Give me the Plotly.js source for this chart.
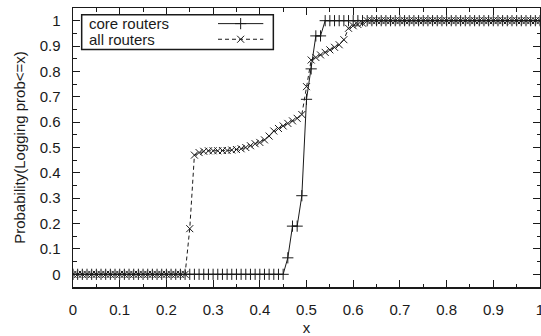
<!DOCTYPE html>
<html>
<head>
<meta charset="utf-8">
<script src="https://cdn.plot.ly/plotly-3.0.1.min.js"></script>
<style>html,body{margin:0;padding:0;background:#fff;}#chart{width:541px;height:336px;}</style>
</head>
<body>
<div id="chart"></div>
<script>
const xValues = [
  0.00,0.01,0.02,0.03,0.04,0.05,0.06,0.07,0.08,0.09,
  0.10,0.11,0.12,0.13,0.14,0.15,0.16,0.17,0.18,0.19,
  0.20,0.21,0.22,0.23,0.24,0.25,0.26,0.27,0.28,0.29,
  0.30,0.31,0.32,0.33,0.34,0.35,0.36,0.37,0.38,0.39,
  0.40,0.41,0.42,0.43,0.44,0.45,0.46,0.47,0.48,0.49,
  0.50,0.51,0.52,0.53,0.54,0.55,0.56,0.57,0.58,0.59,
  0.60,0.61,0.62,0.63,0.64,0.65,0.66,0.67,0.68,0.69,
  0.70,0.71,0.72,0.73,0.74,0.75,0.76,0.77,0.78,0.79,
  0.80,0.81,0.82,0.83,0.84,0.85,0.86,0.87,0.88,0.89,
  0.90,0.91,0.92,0.93,0.94,0.95,0.96,0.97,0.98,0.99,
  1.00
];
const coreRouters = [
  0,0,0,0,0,0,0,0,0,0,
  0,0,0,0,0,0,0,0,0,0,
  0,0,0,0,0,0,0,0,0,0,
  0,0,0,0,0,0,0,0,0,0,
  0,0,0,0,0,0,0.065,0.19,0.19,0.31,
  0.69,0.81,0.94,0.94,1,1,1,1,1,1,
  1,1,1,1,1,1,1,1,1,1,
  1,1,1,1,1,1,1,1,1,1,
  1,1,1,1,1,1,1,1,1,1,
  1,1,1,1,1,1,1,1,1,1,
  1
];
const allRouters = [
  0,0,0,0,0,0,0,0,0,0,
  0,0,0,0,0,0,0,0,0,0,
  0,0,0,0,0,0.18,0.47,0.48,0.485,0.487,
  0.487,0.487,0.488,0.488,0.49,0.492,0.495,0.50,0.507,0.515,
  0.52,0.53,0.545,0.565,0.575,0.585,0.595,0.605,0.615,0.63,
  0.74,0.845,0.855,0.865,0.875,0.885,0.895,0.905,0.925,0.97,
  0.98,0.985,0.99,1,1,1,1,1,1,1,
  1,1,1,1,1,1,1,1,1,1,
  1,1,1,1,1,1,1,1,1,1,
  1,1,1,1,1,1,1,1,1,1,
  1
];
const seriesNames = ["core routers", "all routers"];
const xTickVals = [0,0.1,0.2,0.3,0.4,0.5,0.6,0.7,0.8,0.9,1];
const xTickText = ["0","0.1","0.2","0.3","0.4","0.5","0.6","0.7","0.8","0.9","1"];
const yTickVals = [0,0.1,0.2,0.3,0.4,0.5,0.6,0.7,0.8,0.9,1];
const yTickText = ["0","0.1","0.2","0.3","0.4","0.5","0.6","0.7","0.8","0.9","1"];

const ink = "#1a1a1a";
const font = {family: "Liberation Sans, Arial, sans-serif", size: 15, color: ink};

const traces = [
  {x: xValues, y: coreRouters, name: seriesNames[0], mode: "lines+markers", type: "scatter",
   line: {color: ink, width: 1},
   marker: {symbol: "cross-thin", size: 8, color: ink, line: {color: ink, width: 1}}},
  {x: xValues, y: allRouters, name: seriesNames[1], mode: "lines+markers", type: "scatter",
   line: {color: ink, width: 1, dash: "4px,3px"},
   marker: {symbol: "x-thin", size: 7, color: ink, line: {color: ink, width: 1}}},
  // legend samples on a hidden overlay axis (0..1 = plot area)
  {x: [0.3105, 0.359, 0.4075], y: [0.944, 0.944, 0.944], xaxis: "x2", yaxis: "y2",
   mode: "lines", line: {color: ink, width: 1}, hoverinfo: "skip", showlegend: false},
  {x: [0.359], y: [0.944], xaxis: "x2", yaxis: "y2", mode: "markers",
   marker: {symbol: "cross-thin", size: 8, color: ink, line: {color: ink, width: 1}}, showlegend: false},
  {x: [0.3105, 0.4075], y: [0.888, 0.888], xaxis: "x2", yaxis: "y2",
   mode: "lines", line: {color: ink, width: 1, dash: "4px,3px"}, hoverinfo: "skip", showlegend: false},
  {x: [0.359], y: [0.888], xaxis: "x2", yaxis: "y2", mode: "markers",
   marker: {symbol: "x-thin", size: 7, color: ink, line: {color: ink, width: 1}}, showlegend: false}
];

const axisCommon = {
  showgrid: false, zeroline: false, showline: true, linecolor: ink, linewidth: 1.5,
  mirror: "allticks", ticks: "inside", ticklen: 7, tickwidth: 1, tickcolor: ink,
  tickfont: font, tickmode: "array", ticklabeloverflow: "allow"
};

const layout = {
  width: 541, height: 336,
  margin: {l: 73, r: 1, t: 8, b: 49, pad: 0},
  paper_bgcolor: "#fff", plot_bgcolor: "#fff",
  showlegend: false,
  font: font,
  xaxis: Object.assign({}, axisCommon, {
    range: [0, 1], tickvals: xTickVals, ticktext: xTickText, ticklabelstandoff: 8,
    minor: {dtick: 0.05, ticks: "inside", ticklen: 3.5, tickcolor: ink, tickwidth: 1, showgrid: false},
    title: {text: "x", font: font, standoff: 9}
  }),
  yaxis: Object.assign({}, axisCommon, {
    range: [-0.05, 1.05], tickvals: yTickVals, ticktext: yTickText, ticklabelstandoff: 8,
    minor: {dtick: 0.05, ticks: "inside", ticklen: 3.5, tickcolor: ink, tickwidth: 1, showgrid: false},
    title: {text: "Probability(Logging prob<=x)", font: font, standoff: 10}
  }),
  xaxis2: {overlaying: "x", range: [0, 1], visible: false, fixedrange: true},
  yaxis2: {overlaying: "y", range: [0, 1], visible: false, fixedrange: true},
  shapes: [
    {type: "rect", xref: "paper", yref: "paper", x0: 0.0186, x1: 0.429, y0: 0.851, y1: 0.976,
     line: {color: ink, width: 1.5}, fillcolor: "rgba(255,255,255,0)", layer: "below"}
  ],
  annotations: [
    {xref: "paper", yref: "paper", x: 0.031, y: 0.944, xanchor: "left", yanchor: "middle",
     text: seriesNames[0], showarrow: false, font: font},
    {xref: "paper", yref: "paper", x: 0.031, y: 0.888, xanchor: "left", yanchor: "middle",
     text: seriesNames[1], showarrow: false, font: font}
  ]
};

Plotly.newPlot("chart", traces, layout, {displayModeBar: false, staticPlot: true});
</script>
</body>
</html>
